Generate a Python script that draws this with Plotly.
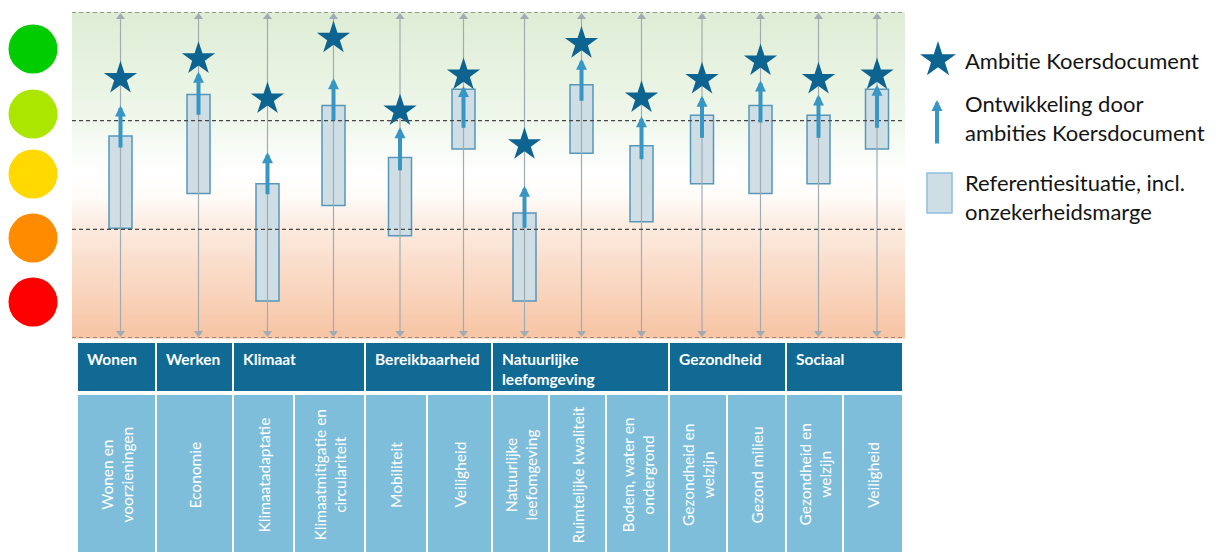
import plotly.graph_objects as go

# ---------------- data ----------------
subthemes = ["Wonen en<br>voorzieningen", "Economie", "Klimaatadaptatie",
             "Klimaatmitigatie en<br>circulariteit", "Mobiliteit", "Veiligheid",
             "Natuurlijke<br>leefomgeving", "Ruimtelijke kwaliteit",
             "Bodem, water en<br>ondergrond", "Gezondheid en<br>welzijn",
             "Gezond milieu", "Gezondheid en<br>welzijn", "Veiligheid"]
themes = ["Wonen", "Werken", "Klimaat", "Bereikbaarheid",
          "Natuurlijke<br>leefomgeving", "Gezondheid", "Sociaal"]
theme_span = [1, 1, 2, 2, 3, 2, 2]   # number of sub-themes per theme

ref_low   = [1.01, 1.33, 0.34, 1.22, 0.94, 1.74, 0.34, 1.70, 1.07, 1.42, 1.33, 1.42, 1.74]
ref_high  = [1.86, 2.24, 1.42, 2.14, 1.66, 2.29, 1.15, 2.33, 1.77, 2.05, 2.14, 2.05, 2.29]
dev_start = [1.74, 2.04, 1.31, 1.99, 1.53, 1.92, 1.00, 2.17, 1.63, 1.83, 1.97, 1.83, 1.92]
dev_end   = [2.14, 2.45, 1.71, 2.39, 1.94, 2.32, 1.40, 2.57, 2.04, 2.23, 2.37, 2.24, 2.33]
ambition  = [2.39, 2.57, 2.20, 2.76, 2.09, 2.42, 1.78, 2.71, 2.21, 2.38, 2.55, 2.38, 2.42]

score_levels = [0, 1, 2, 3]
legend_labels = ["Ambitie Koersdocument",
                 "Ontwikkeling door<br>ambities Koersdocument",
                 "Referentiesituatie, incl.<br>onzekerheidsmarge"]

# ---------------- layout helpers ----------------
OFF = 8                      # page body margin
W, H = 1221 - OFF, 552 - OFF
def px(x): return (x - OFF) / W
def py(y): return 1 - (y - OFF) / H

PLOT_L, PLOT_R, PLOT_T, PLOT_B = 72, 905, 12, 338
TABLE_L = 77
col_widths = [79, 77, 61, 71, 62, 65, 57, 57, 63, 58, 59, 57, 60]
bounds = [TABLE_L]
for w in col_widths:
    bounds.append(bounds[-1] + w)
centers = [(bounds[i] + bounds[i + 1]) / 2 + 4 for i in range(len(col_widths))]

FONT = "Lato"
DARK = "rgb(14,100,145)"
ARROW = "rgb(55,150,196)"
GREY = "rgb(160,172,178)"

fig = go.Figure()

# thin grey double-headed scale lines
gx, gy = [], []
for x in centers:
    gx += [x, x, None]
    gy += [score_levels[0] + 0.03, score_levels[-1] - 0.03, None]
fig.add_trace(go.Scatter(x=gx, y=gy, mode="lines", line=dict(color=GREY, width=1.2),
                         hoverinfo="skip", showlegend=False))
fig.add_trace(go.Scatter(x=centers, y=[score_levels[-1] - 0.045] * len(centers), mode="markers",
                         marker=dict(symbol="triangle-up", size=8, color=GREY),
                         hoverinfo="skip", showlegend=False))
fig.add_trace(go.Scatter(x=centers, y=[score_levels[0] + 0.045] * len(centers), mode="markers",
                         marker=dict(symbol="triangle-down", size=8, color=GREY),
                         hoverinfo="skip", showlegend=False))

# reference boxes
fig.add_trace(go.Bar(x=centers, base=ref_low,
                     y=[h - l for h, l in zip(ref_high, ref_low)],
                     width=23, marker=dict(color="rgb(207,222,228)",
                                           line=dict(color="rgb(88,150,186)", width=1.5)),
                     hoverinfo="skip", showlegend=False))

# ambition stars
fig.add_trace(go.Scatter(x=centers, y=ambition, mode="markers",
                         marker=dict(symbol="star", size=25, color=DARK,
                                     line=dict(width=0)),
                         hoverinfo="skip", showlegend=False))

annotations = []
# development arrows
for x, s, e in zip(centers, dev_start, dev_end):
    annotations.append(dict(x=x, y=e, ax=x, ay=s, xref="x", yref="y", axref="x", ayref="y",
                            text="", showarrow=True, arrowhead=2, arrowsize=0.55,
                            arrowwidth=4, arrowcolor=ARROW, standoff=0, startstandoff=0))

shapes = []
# background gradient
stops = [(12, (222, 237, 213)), (120, (239, 247, 235)), (175, (255, 255, 255)),
         (195, (255, 252, 249)), (229, (252, 234, 222)), (338, (247, 196, 164))]
def col_at(y):
    for (y0, c0), (y1, c1) in zip(stops[:-1], stops[1:]):
        if y0 <= y <= y1:
            t = (y - y0) / (y1 - y0)
            return "rgb(%d,%d,%d)" % tuple(round(a + (b - a) * t) for a, b in zip(c0, c1))
    return "rgb(%d,%d,%d)" % stops[-1][1]
step = 3
yy = PLOT_T
while yy < PLOT_B:
    y2 = min(yy + step, PLOT_B)
    shapes.append(dict(type="rect", xref="paper", yref="paper", x0=px(PLOT_L), x1=px(PLOT_R),
                       y0=py(y2 + 0.5), y1=py(yy), fillcolor=col_at((yy + y2) / 2),
                       line=dict(width=0), layer="below"))
    yy = y2

# dashed level lines
for lv in score_levels:
    shapes.append(dict(type="line", xref="paper", yref="y", x0=px(PLOT_L), x1=px(PLOT_R),
                       y0=lv, y1=lv, line=dict(color="rgb(70,70,70)", width=1.2, dash="4px,3px"),
                       layer="above"))

# traffic-light circles
circ_y = [49, 114, 174, 238, 302]
circ_c = ["#00cc00", "#aae600", "#ffd900", "#ff8c00", "#ff0000"]
R = 24.5
for cy, cc in zip(circ_y, circ_c):
    shapes.append(dict(type="circle", xref="paper", yref="paper",
                       x0=px(33 - R), x1=px(33 + R), y0=py(cy + R), y1=py(cy - R),
                       fillcolor=cc, line=dict(width=0)))

# table: header row
HEAD_T, HEAD_B, SUB_T, SUB_B = 343, 391, 395, 560
HEAD_C = "rgb(16,106,148)"
SUB_C = "rgb(127,190,218)"
i = 0
for name, span in zip(themes, theme_span):
    x0, x1 = bounds[i], bounds[i + span]
    shapes.append(dict(type="rect", xref="paper", yref="paper", x0=px(x0 + 1), x1=px(x1 - 1),
                       y0=py(HEAD_B), y1=py(HEAD_T), fillcolor=HEAD_C, line=dict(width=0)))
    annotations.append(dict(x=px(x0 + 8), y=py(348), xref="paper", yref="paper",
                            xanchor="left", yanchor="top", align="left", showarrow=False,
                            text="<b>%s</b>" % name,
                            font=dict(family=FONT, size=15.5, color="white")))
    i += span

# table: sub-theme row
for k, name in enumerate(subthemes):
    x0, x1 = bounds[k], bounds[k + 1]
    shapes.append(dict(type="rect", xref="paper", yref="paper", x0=px(x0 + 1), x1=px(x1 - 1),
                       y0=py(SUB_B), y1=py(SUB_T), fillcolor=SUB_C, line=dict(width=0)))
    annotations.append(dict(x=px((x0 + x1) / 2), y=py(475), xref="paper", yref="paper",
                            xanchor="center", yanchor="middle", showarrow=False,
                            textangle=-90, text=name,
                            font=dict(family=FONT, size=15.5, color="white")))

# legend
fig.add_trace(go.Scatter(x=[938], y=[60], xaxis="x2", yaxis="y2", mode="markers",
                         marker=dict(symbol="star", size=27, color=DARK),
                         hoverinfo="skip", showlegend=False))
annotations.append(dict(x=px(937), y=py(100), xref="paper", yref="paper", ax=0, ay=45,
                        text="", showarrow=True, arrowhead=2, arrowsize=0.55, arrowwidth=4,
                        arrowcolor=ARROW, standoff=0))
shapes.append(dict(type="rect", xref="paper", yref="paper", x0=px(927), x1=px(952),
                   y0=py(213), y1=py(173), fillcolor="rgb(207,222,228)",
                   line=dict(color="rgb(140,190,225)", width=1.5)))
for lab, cy in zip(legend_labels, [61, 118, 197]):
    annotations.append(dict(x=px(963), y=py(cy), xref="paper", yref="paper",
                            xanchor="left", yanchor="middle", align="left", showarrow=False,
                            text=lab, font=dict(family=FONT, size=22, color="rgb(20,20,20)")))

fig.update_layout(
    width=W, height=H, margin=dict(l=0, r=0, t=0, b=0),
    paper_bgcolor="white", plot_bgcolor="rgba(0,0,0,0)",
    showlegend=False, barmode="overlay",
    xaxis=dict(domain=[px(PLOT_L), px(PLOT_R)], range=[PLOT_L, PLOT_R], visible=False,
               fixedrange=True),
    yaxis=dict(domain=[py(PLOT_B), py(PLOT_T)], range=[score_levels[0], score_levels[-1]],
               visible=False, fixedrange=True),
    xaxis2=dict(domain=[0, 1], range=[OFF, W + OFF], visible=False, anchor="y2",
                fixedrange=True),
    yaxis2=dict(domain=[0, 1], range=[H + OFF, OFF], visible=False, anchor="x2",
                fixedrange=True),
    shapes=shapes, annotations=annotations,
    font=dict(family=FONT),
)

fig.write_html("out.html")
